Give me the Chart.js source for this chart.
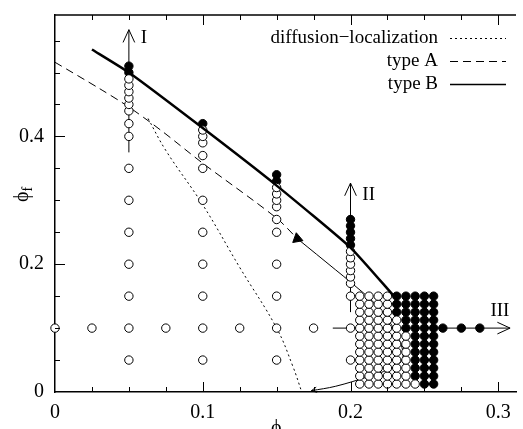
<!DOCTYPE html>
<html>
<head>
<meta charset="utf-8">
<script src="https://cdn.jsdelivr.net/npm/chart.js@4.4.0/dist/chart.umd.min.js"></script>
<style>
  html, body { margin: 0; padding: 0; background: #fff; }
  canvas { display: block; }
</style>
</head>
<body>
<canvas id="phaseChart" width="523" height="429"></canvas>
<script>
// axis ticks
const xTickValues = [0, 0.1, 0.2, 0.3];
const xTickLabels = ['0', '0.1', '0.2', '0.3'];
const yTickValues = [0, 0.2, 0.4];
const yTickLabels = ['0', '0.2', '0.4'];
const xMinorTicks = [0.025, 0.05, 0.075, 0.125, 0.15, 0.175, 0.225, 0.25, 0.275];
const yMinorTicks = [0.05, 0.1, 0.15, 0.25, 0.3, 0.35, 0.45, 0.5, 0.55];

// simulated state points (open = fluid, filled = arrested)
const col005Open = [0.05, 0.1, 0.15, 0.2, 0.25, 0.3, 0.35, 0.4, 0.42, 0.44, 0.45, 0.46, 0.47, 0.48, 0.49];
const col005Filled = [0.50, 0.51];
const col01Open = [0.05, 0.1, 0.15, 0.2, 0.25, 0.3, 0.35, 0.37, 0.39, 0.40, 0.41];
const col01Filled = [0.42];
const col015Open = [0.05, 0.1, 0.15, 0.2, 0.25, 0.27, 0.29, 0.30, 0.31, 0.32];
const col015Filled = [0.33, 0.34];
const col02Open = [0.05, 0.1, 0.15, 0.17, 0.18, 0.19, 0.20, 0.21, 0.22];
const col02Filled = [0.23, 0.24, 0.25, 0.26, 0.27];
const rowOpenX = [0, 0.025, 0.075, 0.125, 0.175];
const rowFilledX = [0.2625, 0.275, 0.2875];

// dense grid near phi_m = 0.2 .. 0.25
const gridX = [0.20625, 0.2125, 0.21875, 0.225, 0.23125, 0.2375, 0.24375, 0.25, 0.25625];
const gridY = [0.0125, 0.025, 0.0375, 0.05, 0.0625, 0.075, 0.0875, 0.1, 0.1125, 0.125, 0.1375, 0.15];
const gridFirstFilled = [7, 6, 6, 6, 6, 6, 6, 5, 5, 4, 4, 4];

// transition lines
const typeBX = [0.025, 0.05, 0.1, 0.15, 0.2, 0.229];
const typeBY = [0.536, 0.5, 0.413, 0.323, 0.226, 0.151];
const typeAX = [0, 0.03, 0.05, 0.072, 0.1, 0.15, 0.164];
const typeAY = [0.516, 0.475, 0.446, 0.409, 0.358, 0.272, 0.24];
const diffX = [0.063, 0.075, 0.1, 0.125, 0.15, 0.161, 0.167];
const diffY = [0.428, 0.378, 0.293, 0.195, 0.1, 0.04, 0];
const pathX = [0.164, 0.19, 0.2, 0.2167, 0.2278, 0.2333, 0.2356, 0.2333, 0.2256, 0.212, 0.19, 0.1735];
const pathY = [0.24, 0.191, 0.172, 0.138, 0.105, 0.08, 0.058, 0.045, 0.035, 0.024, 0.009, 0.002];

// paths I, II, III
const arrowIX = [0.05, 0.05], arrowIY = [0.375, 0.567];
const arrowIIX = [0.2, 0.2], arrowIIY = [0.125, 0.327];
const arrowIIIX = [0.188, 0.308], arrowIIIY = [0.1, 0.1];

const pts = (xs, ys) => xs.map((x, i) => ({ x: x, y: ys[i] }));
const column = (x, ys) => ys.map(y => ({ x: x, y: y }));
const row = (y, xs) => xs.map(x => ({ x: x, y: y }));

const openCircles = [
    ...column(0.05, col005Open), ...column(0.1, col01Open),
    ...column(0.15, col015Open), ...column(0.2, col02Open), ...row(0.1, rowOpenX)
];
const filledCircles = [
    ...column(0.05, col005Filled), ...column(0.1, col01Filled),
    ...column(0.15, col015Filled), ...column(0.2, col02Filled), ...row(0.1, rowFilledX)
];
gridY.forEach((gy, j) => {
    gridX.forEach((gx, k) => {
        (k >= gridFirstFilled[j] ? filledCircles : openCircles).push({ x: gx, y: gy });
    });
});

const serif = "'Liberation Serif', 'DejaVu Serif', serif";
const PHI = '\u03d5';

function lineSet(data, width, dash, order, tension) {
    return {
        data: data, showLine: true, borderColor: '#000', borderWidth: width,
        borderDash: dash, pointRadius: 0, tension: tension, order: order, fill: false
    };
}

function arrowHead(ctx, tx, ty, fx, fy, len, half) {
    const ang = Math.atan2(ty - fy, tx - fx);
    ctx.beginPath();
    ctx.moveTo(tx - len * Math.cos(ang - half), ty - len * Math.sin(ang - half));
    ctx.lineTo(tx, ty);
    ctx.lineTo(tx - len * Math.cos(ang + half), ty - len * Math.sin(ang + half));
    ctx.stroke();
}

const decorations = {
    id: 'decorations',
    afterDraw(chart) {
        const ctx = chart.ctx, a = chart.chartArea;
        const sx = chart.scales.x, sy = chart.scales.y;
        const X = v => sx.getPixelForValue(v), Y = v => sy.getPixelForValue(v);
        ctx.save();
        ctx.strokeStyle = '#000';
        ctx.fillStyle = '#000';

        // frame top
        ctx.lineWidth = 1.5;
        ctx.beginPath();
        ctx.moveTo(a.left, a.top);
        ctx.lineTo(a.right, a.top);
        ctx.stroke();

        // inward ticks
        ctx.lineWidth = 1;
        ctx.beginPath();
        xTickValues.concat(xMinorTicks).forEach(v => {
            if (v === 0) return;
            const len = xTickValues.includes(v) ? 10 : 5;
            const px = Math.round(X(v)) + 0.5;
            ctx.moveTo(px, a.bottom); ctx.lineTo(px, a.bottom - len);
            ctx.moveTo(px, a.top); ctx.lineTo(px, a.top + len);
        });
        yTickValues.concat(yMinorTicks).forEach(v => {
            if (v === 0) return;
            const len = yTickValues.includes(v) ? 10 : 5;
            const py = Math.round(Y(v)) + 0.5;
            ctx.moveTo(a.left, py); ctx.lineTo(a.left + len, py);
        });
        ctx.stroke();

        // arrow heads
        ctx.lineWidth = 1;
        arrowHead(ctx, X(arrowIX[1]), Y(arrowIY[1]), X(arrowIX[0]), Y(arrowIY[0]), 14, 0.43);
        arrowHead(ctx, X(arrowIIX[1]), Y(arrowIIY[1]), X(arrowIIX[0]), Y(arrowIIY[0]), 14, 0.43);
        arrowHead(ctx, X(arrowIIIX[1]), Y(arrowIIIY[1]), X(arrowIIIX[0]), Y(arrowIIIY[0]), 14, 0.43);
        const n = pathX.length;
        arrowHead(ctx, X(pathX[n - 1]), Y(pathY[n - 1]), X(pathX[n - 2]), Y(pathY[n - 2]), 6, 0.45);

        // path labels
        ctx.font = '19px ' + serif;
        ctx.textBaseline = 'middle';
        ctx.textAlign = 'left';
        ctx.fillText('I', X(0.058), Y(0.554));
        ctx.fillText('II', X(0.208), Y(0.309));
        ctx.fillText('III', X(0.2947), Y(0.1266));

        // legend
        const rows = [
            ['diffusion\u2212localization', [2, 3], 1],
            ['type A', [8, 5], 1],
            ['type B', [], 1.5]
        ];
        ctx.textAlign = 'right';
        rows.forEach((r, i) => {
            const ly = a.top + 23 + i * 23;
            ctx.fillText(r[0], a.right - 78, ly);
            ctx.setLineDash(r[1]);
            ctx.lineWidth = r[2];
            ctx.beginPath();
            ctx.moveTo(a.right - 66, ly + 0.5);
            ctx.lineTo(a.right - 10, ly + 0.5);
            ctx.stroke();
        });
        ctx.setLineDash([]);

        // axis titles
        ctx.textAlign = 'left';
        ctx.textBaseline = 'alphabetic';
        ctx.font = '20px ' + serif;
        const wPhi = ctx.measureText(PHI).width;
        ctx.fillText(PHI, 271, 434);
        ctx.font = '14px ' + serif;
        ctx.fillText('m', 271 + wPhi, 438);

        ctx.save();
        ctx.translate(22, 192);
        ctx.rotate(-Math.PI / 2);
        ctx.font = '20px ' + serif;
        ctx.fillText(PHI, -10, 6);
        ctx.font = '14px ' + serif;
        ctx.fillText('f', -10 + wPhi, 10);
        ctx.restore();

        ctx.restore();
    }
};

new Chart(document.getElementById('phaseChart'), {
    type: 'scatter',
    data: {
        datasets: [
            lineSet(pts(diffX, diffY), 1, [2, 3], 5, 0.4),
            lineSet(pts(typeAX, typeAY), 1, [8, 5], 5, 0.3),
            lineSet(pts(pathX, pathY), 1, [], 5, 0.35),
            lineSet(pts(arrowIX, arrowIY), 1, [], 5, 0),
            lineSet(pts(arrowIIX, arrowIIY), 1, [], 5, 0),
            lineSet(pts(arrowIIIX, arrowIIIY), 1, [], 5, 0),
            {
                data: openCircles, pointStyle: 'circle', pointRadius: 4.2, clip: false,
                pointBorderWidth: 1, borderColor: '#000', backgroundColor: '#fff', order: 3
            },
            {
                data: filledCircles, pointStyle: 'circle', pointRadius: 4.2, clip: false,
                pointBorderWidth: 1, borderColor: '#000', backgroundColor: '#000', order: 3
            },
            lineSet(pts(typeBX, typeBY), 2.5, [], 1, 0.15),
            {
                data: pts([pathX[0]], [pathY[0]]), pointStyle: 'triangle', pointRadius: 6,
                rotation: -10, borderColor: '#000', backgroundColor: '#000', order: 0
            }
        ]
    },
    options: {
        responsive: false,
        animation: false,
        devicePixelRatio: 1,
        layout: { padding: { top: 14, right: 0, left: 0, bottom: 0 } },
        plugins: { legend: { display: false }, tooltip: { enabled: false } },
        scales: {
            x: {
                type: 'linear', min: 0, max: 0.312,
                grid: { display: false },
                border: { display: true, color: '#000', width: 1.5 },
                afterBuildTicks: s => { s.ticks = xTickValues.map(v => ({ value: v })); },
                ticks: {
                    color: '#000', font: { family: serif, size: 20 }, padding: 1,
                    maxRotation: 0, autoSkip: false,
                    callback: v => xTickLabels[xTickValues.indexOf(v)]
                },
                afterFit: s => { s.height = 37; }
            },
            y: {
                type: 'linear', min: 0, max: 0.59,
                grid: { display: false },
                border: { display: true, color: '#000', width: 1.5 },
                afterBuildTicks: s => { s.ticks = yTickValues.map(v => ({ value: v })); },
                ticks: {
                    color: '#000', font: { family: serif, size: 20 }, padding: 3,
                    autoSkip: false,
                    callback: v => yTickLabels[yTickValues.indexOf(v)]
                },
                afterFit: s => { s.width = 55; }
            }
        }
    },
    plugins: [decorations]
});
</script>
</body>
</html>
